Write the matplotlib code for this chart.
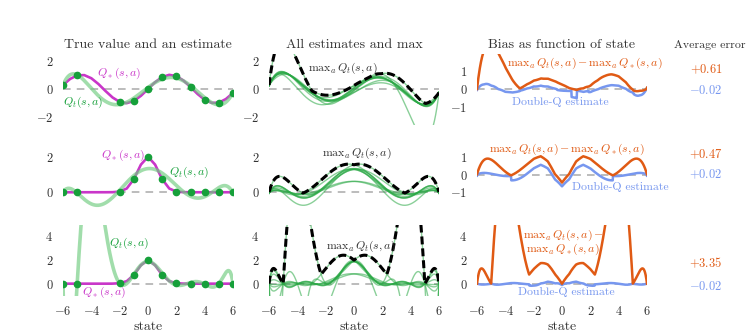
import numpy as np
import matplotlib.pyplot as plt

plt.rcParams['font.family'] = 'serif'
plt.rcParams['font.serif'] = ['cmr10', 'DejaVu Serif']
plt.rcParams['mathtext.fontset'] = 'cm'
plt.rcParams['axes.formatter.use_mathtext'] = True

# true action values V*(s), tabulated on a half-integer grid of states
states = np.arange(-6, 6.5, 0.5)
true_sine = [0.279, 0.706, 0.959, 0.978, 0.757, 0.351, -0.141, -0.598, -0.909,
             -0.997, -0.841, -0.479, 0.0, 0.479, 0.841, 0.997, 0.909, 0.598,
             0.141, -0.351, -0.757, -0.978, -0.959, -0.706, -0.279]
true_bump = [0.0, 0.0, 0.0, 0.0, 0.0, 0.0, 0.0, 0.004, 0.037, 0.211, 0.736,
             1.558, 2.0, 1.558, 0.736, 0.211, 0.037, 0.004, 0.0, 0.0, 0.0,
             0.0, 0.0, 0.0, 0.0]
row_truth = [true_sine, true_bump, true_bump]
poly_degree = [6, 6, 9]

# each of the 10 actions is fit on the integer states minus two neighbours
left_out = [-5, -4, -3, -2, -1, 0, 1, 2, 3, 4]
shown_action = 1

avg_single = ['+0.61', '+0.47', '+3.35']
avg_double = ['-0.02', '+0.02', '-0.02']

W, H = 749, 336
col_left = [63, 269, 477]
row_top = [53.5, 139, 224.5]
ax_w, ax_h = 170, 71
ylims = [[(-2.5, 2.5), (-2.5, 2.5), (-2, 2)],
         [(-1, 3), (-1, 3), (-2, 2)],
         [(-1, 5), (-1, 5), (-1, 5)]]
yticks = [[[-2, 0, 2], [-2, 0, 2], [-1, 0, 1]],
          [[0, 2], [0, 2], [-1, 0, 1]],
          [[0, 2, 4], [0, 2, 4], [0, 2, 4]]]

MAGENTA = '#c936c9'
DOT = '#16a03a'
EST = '#6fcc7f'
ORANGE = '#e05a14'
BLUE = '#7797ef'
GREY = '#333333'

fig = plt.figure(figsize=(W / 100, H / 100), dpi=100)
grid = np.linspace(-6, 6, 601)
ints = states[::2]

axes = []
for r in range(3):
    truth = np.array(row_truth[r])
    v_true = np.interp(grid, states, truth)
    y_int = truth[::2]
    fits = []
    samples = []
    for lo in left_out:
        keep = (ints != lo) & (ints != lo + 1)
        coef = np.polyfit(ints[keep], y_int[keep], poly_degree[r])
        fits.append(np.polyval(coef, grid))
        samples.append((ints[keep], y_int[keep]))
    fits = np.array(fits)
    q_max = fits.max(axis=0)
    best = fits.argmax(axis=0)
    bias = q_max - v_true
    # double estimate: pick the action with one fit, evaluate it with another
    double = fits[(best + 5) % 10, np.arange(grid.size)] - v_true

    row_axes = []
    for c in range(3):
        ax = fig.add_axes([col_left[c] / W, 1 - (row_top[r] + ax_h) / H,
                           ax_w / W, ax_h / H])
        for sp in ax.spines.values():
            sp.set_visible(False)
        ax.set_xlim(-6, 6)
        ax.set_ylim(*ylims[r][c])
        ax.set_yticks(yticks[r][c])
        ax.tick_params(length=0, pad=7, labelsize=9, colors=GREY)
        if r == 2:
            ax.set_xticks(np.arange(-6, 7, 2))
            ax.tick_params(axis='x', pad=7)
            ax.set_xlabel('state', fontsize=10, color=GREY, labelpad=2)
        else:
            ax.set_xticks([])
        ax.axhline(0, color='#aaaaaa', lw=1.1, ls=(0, (5, 4)), zorder=1)
        row_axes.append(ax)
    axes.append(row_axes)

    a1, a2, a3 = row_axes
    # left: true value, one estimate and its samples
    a1.plot(states, truth, color=MAGENTA, lw=1.9, zorder=2)
    a1.plot(grid, fits[shown_action], color=EST, lw=2.6, alpha=0.65, zorder=3)
    sx, sy = samples[shown_action]
    a1.plot(sx, sy, 'o', color=DOT, ms=4.5, zorder=4)

    # middle: all estimates and their max
    for f in fits:
        a2.plot(grid, f, color='#2aa845', lw=1.0, alpha=0.55, zorder=2)
    a2.plot(grid, q_max, color='black', lw=2.2, ls=(0, (2.6, 1.3)), zorder=3)

    # right: bias of the max and of the double estimate
    a3.plot(grid, bias, color=ORANGE, lw=1.8, zorder=3)
    a3.plot(grid, double, color=BLUE, lw=1.8, zorder=2)

# in-panel labels
qs = r'$Q_*(s,a)$'
qt = r'$Q_t(s,a)$'
mx = r'$\mathrm{max}_a\, Q_t(s,a)$'
diff = r'$\mathrm{max}_a\, Q_t(s,a) - \mathrm{max}_a\, Q_*(s,a)$'
fs = 8.5
kw = dict(fontsize=fs, ha='center', va='center')
axes[0][0].text(-2.05, 1.13, qs, color=MAGENTA, **kw)
axes[0][0].text(-4.59, -0.92, qt, color=DOT, **kw)
axes[0][1].text(-0.78, 1.48, mx, color=GREY, **kw)
axes[0][2].text(1.62, 1.46, diff, color=ORANGE, **kw)
axes[0][2].text(-0.14, -0.73, 'Double-Q estimate', color=BLUE, **kw)

axes[1][0].text(-1.77, 2.08, qs, color=MAGENTA, **kw)
axes[1][0].text(2.89, 1.13, qt, color=DOT, **kw)
axes[1][1].text(0.21, 2.2, mx, color=GREY, **kw)
axes[1][2].text(0.35, 1.44, diff, color=ORANGE, **kw)
axes[1][2].text(4.09, -0.70, 'Double-Q estimate', color=BLUE, **kw)

axes[2][0].text(-1.34, 3.44, qt, color=DOT, **kw)
axes[2][0].text(-3.11, -0.70, qs, color=MAGENTA, **kw)
axes[2][1].text(0.49, 3.19, mx, color=GREY, **kw)
axes[2][2].text(0.07, 3.52,
                r'$\mathrm{max}_a\, Q_t(s,a) -$' + '\n' + r'$\mathrm{max}_a\, Q_*(s,a)$',
                color=ORANGE, linespacing=0.85, **kw)
axes[2][2].text(0.28, -0.70, 'Double-Q estimate', color=BLUE, **kw)

titles = ['True value and an estimate', 'All estimates and max',
          'Bias as function of state']
for c, t in enumerate(titles):
    fig.text((col_left[c] + ax_w / 2) / W, 1 - 45 / H, t, fontsize=10,
             color=GREY, ha='center', va='center')
fig.text(710 / W, 1 - 45 / H, 'Average error', fontsize=8.5, color=GREY,
         ha='center', va='center')

avg_y = [(69, 91), (154, 174), (263, 286)]
for r in range(3):
    fig.text(706 / W, 1 - avg_y[r][0] / H, '$%s$' % avg_single[r], fontsize=9,
             color=ORANGE, ha='center', va='center')
    fig.text(706 / W, 1 - avg_y[r][1] / H, '$%s$' % avg_double[r], fontsize=9,
             color=BLUE, ha='center', va='center')

fig.savefig('out.png', dpi=100)
